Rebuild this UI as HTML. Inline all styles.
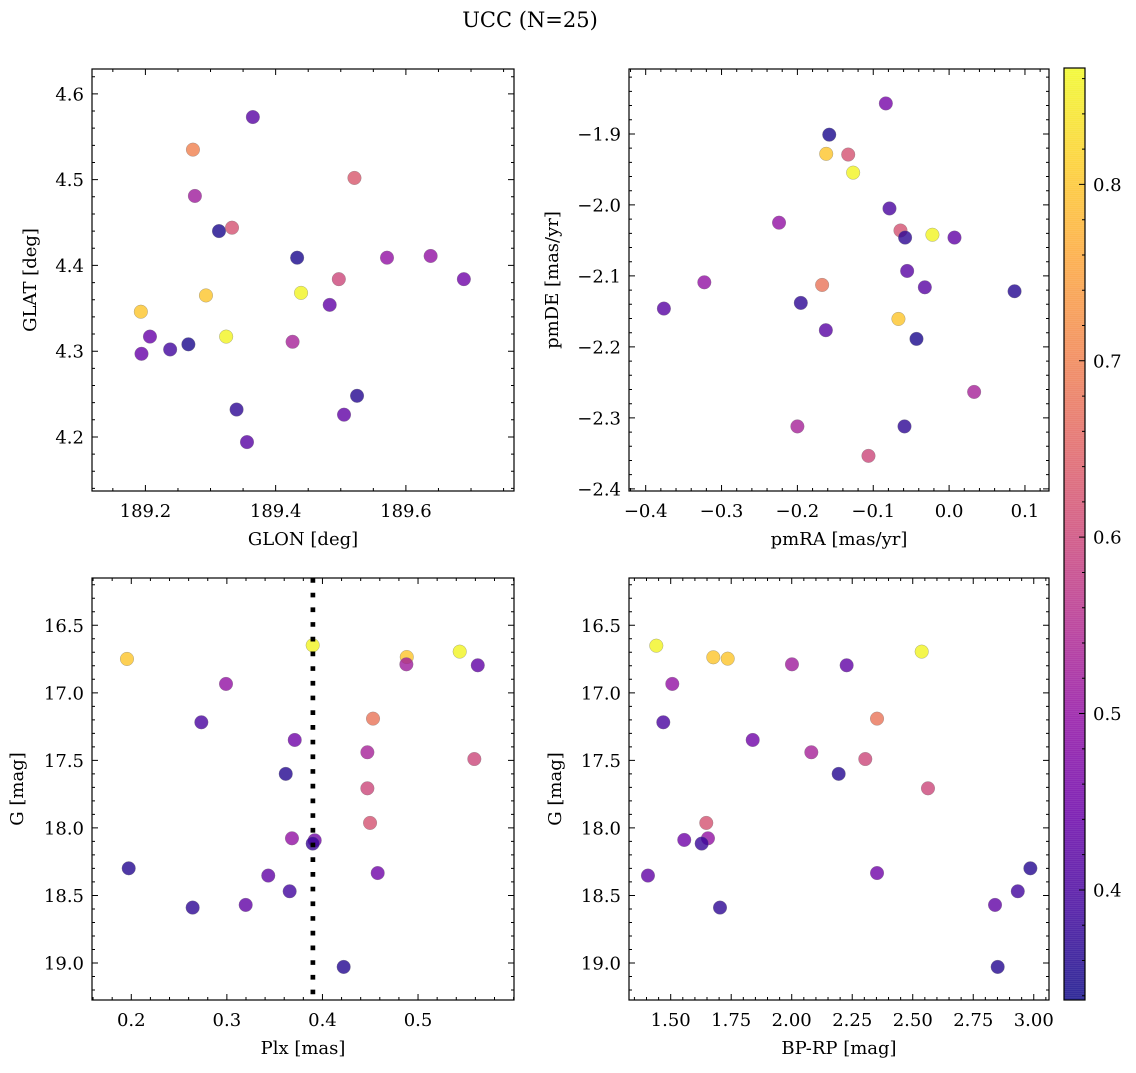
<!DOCTYPE html>
<html><head><meta charset="utf-8"><style>
html,body{margin:0;padding:0;background:#fff;}
svg text{font-family:"DejaVu Serif","Liberation Serif",serif;fill:#000;}
</style></head><body>
<svg id="fig" width="1136" height="1068" viewBox="0 0 1136 1068" xmlns="http://www.w3.org/2000/svg">
<text x="530" y="27" font-size="21" text-anchor="middle">UCC (N=25)</text>
</svg>
<script>
// ---- data ----
const glon=[189.365,189.273,189.521,189.276,189.313,189.333,189.433,189.571,189.638,189.689,189.497,189.193,189.293,189.439,189.483,189.207,189.324,189.426,189.194,189.238,189.266,189.525,189.340,189.505,189.356];
const glat=[4.573,4.535,4.502,4.481,4.440,4.444,4.409,4.409,4.411,4.384,4.384,4.346,4.365,4.368,4.354,4.317,4.317,4.311,4.297,4.302,4.308,4.248,4.232,4.226,4.194];
const cTL=[0.42,0.70,0.63,0.52,0.35,0.62,0.35,0.50,0.50,0.45,0.60,0.80,0.80,0.86,0.43,0.44,0.86,0.53,0.44,0.39,0.35,0.36,0.37,0.43,0.42];

const pmra=[-0.0834,-0.158,-0.162,-0.133,-0.1265,-0.0786,-0.2242,-0.0641,-0.058,-0.022,0.0071,-0.0553,-0.3227,-0.1674,-0.032,0.0863,-0.1955,-0.376,-0.0668,-0.1625,-0.043,0.033,-0.200,-0.0588,-0.1063];
const pmde=[-1.857,-1.901,-1.928,-1.929,-1.9545,-2.005,-2.025,-2.036,-2.046,-2.042,-2.046,-2.093,-2.109,-2.1127,-2.116,-2.1216,-2.138,-2.146,-2.1606,-2.1765,-2.1887,-2.2634,-2.312,-2.312,-2.3535];
const cTR=[0.46,0.35,0.80,0.62,0.86,0.40,0.50,0.62,0.37,0.86,0.43,0.42,0.50,0.68,0.42,0.36,0.37,0.42,0.80,0.42,0.35,0.53,0.53,0.37,0.60];

const plx=[0.1955,0.3898,0.4882,0.4878,0.5436,0.5625,0.2991,0.2733,0.4529,0.371,0.447,0.5589,0.3616,0.447,0.4498,0.3681,0.3919,0.3898,0.1973,0.4578,0.3433,0.3657,0.3197,0.2642,0.4222];
const gBL=[16.749,16.648,16.735,16.789,16.695,16.796,16.934,17.218,17.191,17.349,17.44,17.49,17.60,17.707,17.963,18.077,18.092,18.116,18.299,18.334,18.353,18.469,18.570,18.590,19.029];
const cBL=[0.80,0.86,0.80,0.52,0.86,0.43,0.50,0.40,0.68,0.45,0.53,0.60,0.36,0.60,0.62,0.50,0.45,0.38,0.36,0.45,0.43,0.39,0.43,0.37,0.36];

const bprp=[1.4405,1.676,1.7355,2.537,2.001,2.227,1.5066,1.4694,2.3525,1.8388,2.081,2.304,2.194,2.563,1.647,1.654,1.556,1.628,2.986,2.3525,1.406,2.934,2.840,1.7037,2.851];
const gBR=[16.651,16.737,16.747,16.695,16.789,16.796,16.934,17.218,17.191,17.349,17.44,17.49,17.60,17.707,17.963,18.077,18.089,18.116,18.299,18.334,18.353,18.469,18.570,18.590,19.029];
const cBR=[0.86,0.80,0.80,0.86,0.52,0.43,0.50,0.40,0.68,0.45,0.53,0.60,0.36,0.60,0.62,0.50,0.45,0.38,0.36,0.45,0.43,0.39,0.43,0.37,0.36];

const plxRef=0.39;

const tlXTicks=[189.2,189.4,189.6], tlXLabels=["189.2","189.4","189.6"];
const tlYTicks=[4.2,4.3,4.4,4.5,4.6], tlYLabels=["4.2","4.3","4.4","4.5","4.6"];
const trXTicks=[-0.4,-0.3,-0.2,-0.1,0,0.1], trXLabels=["−0.4","−0.3","−0.2","−0.1","0.0","0.1"];
const trYTicks=[-2.4,-2.3,-2.2,-2.1,-2.0,-1.9], trYLabels=["−2.4","−2.3","−2.2","−2.1","−2.0","−1.9"];
const blXTicks=[0.2,0.3,0.4,0.5], blXLabels=["0.2","0.3","0.4","0.5"];
const gYTicks=[16.5,17.0,17.5,18.0,18.5,19.0], gYLabels=["16.5","17.0","17.5","18.0","18.5","19.0"];
const brXTicks=[1.5,1.75,2.0,2.25,2.5,2.75,3.0], brXLabels=["1.50","1.75","2.00","2.25","2.50","2.75","3.00"];
const cbTicks=[0.4,0.5,0.6,0.7,0.8], cbLabels=["0.4","0.5","0.6","0.7","0.8"];

const VMIN=0.3376, VMAX=0.866;
const FS=18;
const NS="http://www.w3.org/2000/svg";
const svg=document.getElementById('fig');
const plasmaStops=["#0d0887","#41049d","#6a00a8","#8f0da4","#b12a90","#cc4778","#e16462","#f2844b","#fca636","#fcce25","#f0f921"];
function hex(h){return [parseInt(h.substr(1,2),16),parseInt(h.substr(3,2),16),parseInt(h.substr(5,2),16)];}
function plasma(t){t=Math.max(0,Math.min(1,t));const f=t*10;const i=Math.min(9,Math.floor(f));const r=f-i;const a=hex(plasmaStops[i]),b=hex(plasmaStops[i+1]);
 return 'rgb('+a.map((v,k)=>Math.round(v+(b[k]-v)*r)).join(',')+')';}
function cmap(v){return plasma((v-VMIN)/(VMAX-VMIN));}
function mk(tag,attrs,parent){const e=document.createElementNS(NS,tag);for(const k in attrs)e.setAttribute(k,attrs[k]);(parent||svg).appendChild(e);return e;}

function panel(p){
 const g=mk('g',{});
 
 
 const sx=v=>p.x0+(v-p.xmin)/(p.xmax-p.xmin)*p.w;
 const sy=p.inv?(v=>p.y0+(v-p.ymin)/(p.ymax-p.ymin)*p.h):(v=>p.y0+p.h-(v-p.ymin)/(p.ymax-p.ymin)*p.h);
 for(let i=0;i<p.xs.length;i++){
  const c=mk('circle',{cx:sx(p.xs[i]),cy:sy(p.ys[i]),r:6.8,fill:cmap(p.cs[i]),'fill-opacity':0.8,stroke:'#777','stroke-width':0.5,'stroke-opacity':0.6},g);
  
  
 }
 if(p.extra)p.extra(g,sx,sy);
 const fr=mk('rect',{x:p.x0,y:p.y0,width:p.w,height:p.h,fill:'none',stroke:'#000','stroke-width':1.2},g);
 
 
 let d='';
 const xlo=Math.min(p.xmin,p.xmax),xhi=Math.max(p.xmin,p.xmax),ylo=Math.min(p.ymin,p.ymax),yhi=Math.max(p.ymin,p.ymax);
 for(let v=Math.ceil(xlo/p.xm-1e-6)*p.xm;v<=xhi+1e-9;v+=p.xm){const X=sx(v);d+=`M${X},${p.y0+p.h}v-3M${X},${p.y0}v3`;}
 for(let v=Math.ceil(ylo/p.ym-1e-6)*p.ym;v<=yhi+1e-9;v+=p.ym){const Y=sy(v);d+=`M${p.x0},${Y}h3M${p.x0+p.w},${Y}h-3`;}
 p.xt.forEach(v=>{const X=sx(v);d+=`M${X},${p.y0+p.h}v-6M${X},${p.y0}v6`;});
 p.yt.forEach(v=>{const Y=sy(v);d+=`M${p.x0},${Y}h6M${p.x0+p.w},${Y}h-6`;});
 mk('path',{d:d,stroke:'#000','stroke-width':1,fill:'none'},g);
 p.xt.forEach((v,i)=>{const t=mk('text',{x:sx(v),y:p.y0+p.h+26,'font-size':FS,'text-anchor':'middle'},g);t.textContent=p.xl[i];
  
  });
 p.yt.forEach((v,i)=>{const t=mk('text',{x:p.x0-8,y:sy(v)+6.5,'font-size':FS,'text-anchor':'end'},g);t.textContent=p.yl[i];
  
  });
 const xt=mk('text',{x:p.x0+p.w/2,y:p.y0+p.h+54,'font-size':FS,'text-anchor':'middle'},g);xt.textContent=p.xlabel;
 
 
 const yt=mk('text',{x:0,y:0,'font-size':FS,'text-anchor':'middle',transform:`translate(${p.ylx},${p.y0+p.h/2}) rotate(-90)`},g);yt.textContent=p.ylabel;
 
 
}

panel({name:'glon-glat-panel',x0:92,y0:69,w:422,h:422,xmin:189.118,xmax:189.766,ymin:4.137,ymax:4.629,inv:false,xm:0.05,ym:0.02,
 xt:tlXTicks,xl:tlXLabels,yt:tlYTicks,yl:tlYLabels,xs:glon,ys:glat,cs:cTL,xlabel:'GLON [deg]',ylabel:'GLAT [deg]',ylx:36});
panel({name:'pm-panel',x0:629,y0:69,w:420,h:422,xmin:-0.422,xmax:0.1317,ymin:-2.403,ymax:-1.8085,inv:false,xm:0.02,ym:0.02,
 xt:trXTicks,xl:trXLabels,yt:trYTicks,yl:trYLabels,xs:pmra,ys:pmde,cs:cTR,xlabel:'pmRA [mas/yr]',ylabel:'pmDE [mas/yr]',ylx:558});
panel({name:'plx-g-panel',x0:92,y0:578,w:422,h:422,xmin:0.1589,xmax:0.6004,ymin:16.150,ymax:19.274,inv:true,xm:0.02,ym:0.1,
 xt:blXTicks,xl:blXLabels,yt:gYTicks,yl:gYLabels,xs:plx,ys:gBL,cs:cBL,xlabel:'Plx [mas]',ylabel:'G [mag]',ylx:23,
 extra:(g,sx,sy)=>{const l=mk('line',{x1:sx(plxRef),x2:sx(plxRef),y1:578,y2:1000,stroke:'#000','stroke-width':4.7,'stroke-dasharray':'4.7 10'},g);
  
  }});
panel({name:'cmd-panel',x0:629,y0:578,w:420,h:422,xmin:1.3277,xmax:3.063,ymin:16.150,ymax:19.274,inv:true,xm:0.05,ym:0.1,
 xt:brXTicks,xl:brXLabels,yt:gYTicks,yl:gYLabels,xs:bprp,ys:gBR,cs:cBR,xlabel:'BP-RP [mag]',ylabel:'G [mag]',ylx:561});

(function(){
 const g=mk('g',{});
 
 
 const x0=1064,w=21,y0=68,y1=1000;
 const cy=v=>y1-(v-VMIN)/(VMAX-VMIN)*(y1-y0);
 for(let y=y0;y<y1;y+=2){const v=VMIN+(y1-y-1)/(y1-y0)*(VMAX-VMIN);mk('rect',{x:x0,y:y,width:w,height:2.3,fill:cmap(v),'fill-opacity':0.8},g);}
 mk('rect',{x:x0,y:y0,width:w,height:y1-y0,fill:'none',stroke:'#000','stroke-width':1.2},g);
 let d='';
 for(let v=0.34;v<=VMAX;v+=0.02){d+=`M${x0+w},${cy(v)}h-3`;}
 cbTicks.forEach(v=>{d+=`M${x0+w},${cy(v)}h-6`;});
 mk('path',{d:d,stroke:'#000','stroke-width':1,fill:'none'},g);
 cbTicks.forEach((v,i)=>{const t=mk('text',{x:x0+w+8,y:cy(v)+6.5,'font-size':FS},g);t.textContent=cbLabels[i];
  
  });
})();
</script>
</body></html>
